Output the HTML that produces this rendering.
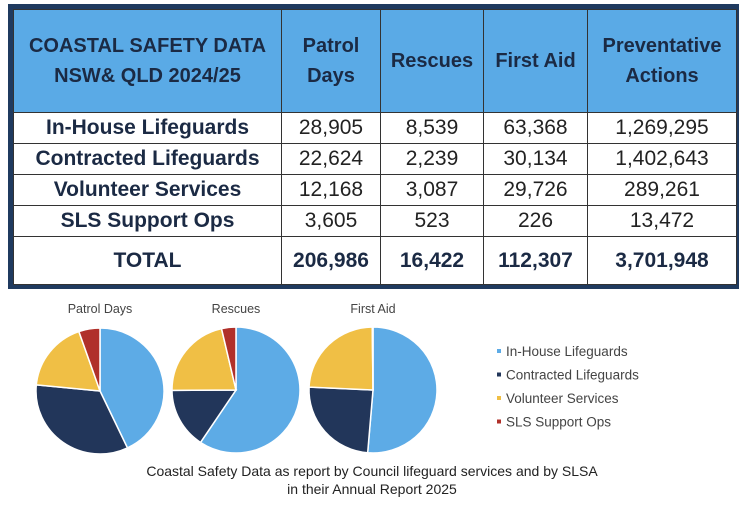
<!DOCTYPE html>
<html><head><meta charset="utf-8"><style>
body{margin:0;width:743px;height:512px;background:#fff;overflow:hidden;font-family:"Liberation Sans",sans-serif;position:relative}
#frame{position:absolute;left:8px;top:4px;width:731px;height:285px;background:#1f3a5f}
table{position:absolute;left:13px;top:9px;border-collapse:collapse;font-family:"Liberation Sans",sans-serif;color:#222}
td,th{border:1.5px solid #333;text-align:center;padding:0;background:#fff;font-size:21px}
th{background:#5aaae6;color:#1b2a44;font-weight:bold;height:102px;font-size:20px;line-height:30px}
td.l{font-weight:bold;color:#1b2a44}
tr.r td{height:30px}
tr.t td{height:47px;font-weight:bold;color:#1b2a44}
</style></head><body>
<div id="frame"></div>
<table>
<tr><th style="width:267px">COASTAL SAFETY DATA<br>NSW&amp; QLD 2024/25</th><th style="width:98px">Patrol<br>Days</th><th style="width:102px">Rescues</th><th style="width:103px">First Aid</th><th style="width:148px">Preventative<br>Actions</th></tr>
<tr class="r"><td class="l">In-House Lifeguards</td><td>28,905</td><td>8,539</td><td>63,368</td><td>1,269,295</td></tr>
<tr class="r"><td class="l">Contracted Lifeguards</td><td>22,624</td><td>2,239</td><td>30,134</td><td>1,402,643</td></tr>
<tr class="r"><td class="l">Volunteer Services</td><td>12,168</td><td>3,087</td><td>29,726</td><td>289,261</td></tr>
<tr class="r"><td class="l">SLS Support Ops</td><td>3,605</td><td>523</td><td>226</td><td>13,472</td></tr>
<tr class="t"><td>TOTAL</td><td>206,986</td><td>16,422</td><td>112,307</td><td>3,701,948</td></tr>
</table>
<svg id="pies" width="743" height="512" style="position:absolute;left:0;top:0"></svg>
<script>
const categories=["In-House Lifeguards","Contracted Lifeguards","Volunteer Services","SLS Support Ops"];
const chartTitles=["Patrol Days","Rescues","First Aid"];
const patrolDays=[28905,22624,12168,3605];
const rescues=[8539,2239,3087,523];
const firstAid=[63368,30134,29726,226];
const colors=["#5dabe6","#22365a","#f0bf45","#b0302a"];
const svg=document.getElementById('pies');
const NS="http://www.w3.org/2000/svg";
const series=[patrolDays,rescues,firstAid];
const centers=[[100,391],[236,390],[373,390]];
series.forEach((vals,i)=>{
 const [cx,cy]=centers[i];const rx=64,ry=63;
 const tot=vals.reduce((a,b)=>a+b,0);let a0=0;
 vals.forEach((v,j)=>{
  const a1=a0+v/tot*2*Math.PI;
  const x0=cx+rx*Math.sin(a0),y0=cy-ry*Math.cos(a0),x1=cx+rx*Math.sin(a1),y1=cy-ry*Math.cos(a1);
  const p=document.createElementNS(NS,'path');
  p.setAttribute('d',`M${cx},${cy}L${x0},${y0}A${rx},${ry} 0 ${a1-a0>Math.PI?1:0} 1 ${x1},${y1}Z`);
  p.setAttribute('fill',colors[j]);p.setAttribute('stroke','#fff');p.setAttribute('stroke-width','1.5');
  
  
  svg.appendChild(p);a0=a1;
 });
 const t=document.createElementNS(NS,'text');
 t.setAttribute('x',cx);t.setAttribute('y',313);t.setAttribute('text-anchor','middle');
 t.setAttribute('font-size','12.5');t.setAttribute('fill','#444');t.textContent=chartTitles[i];
 
 
 svg.appendChild(t);
});
categories.forEach((c,j)=>{
 const y=352+j*23.5;
 const r=document.createElementNS(NS,'rect');
 r.setAttribute('x',497);r.setAttribute('y',y-3);r.setAttribute('width',4);r.setAttribute('height',4);r.setAttribute('fill',colors[j]);
 
 
 svg.appendChild(r);
 const t=document.createElementNS(NS,'text');
 t.setAttribute('x',506);t.setAttribute('y',y+4);t.setAttribute('font-size','13.5');t.setAttribute('fill','#444');t.textContent=c;
 
 
 svg.appendChild(t);
});
["Coastal Safety Data as report by Council lifeguard services and by SLSA","in their Annual Report 2025"].forEach((s,k)=>{
 const t=document.createElementNS(NS,'text');
 t.setAttribute('x',372);t.setAttribute('y',476+k*18);t.setAttribute('text-anchor','middle');t.setAttribute('font-size','14');t.setAttribute('fill','#222');t.textContent=s;
 
 
 svg.appendChild(t);
});
</script>
</body></html>
